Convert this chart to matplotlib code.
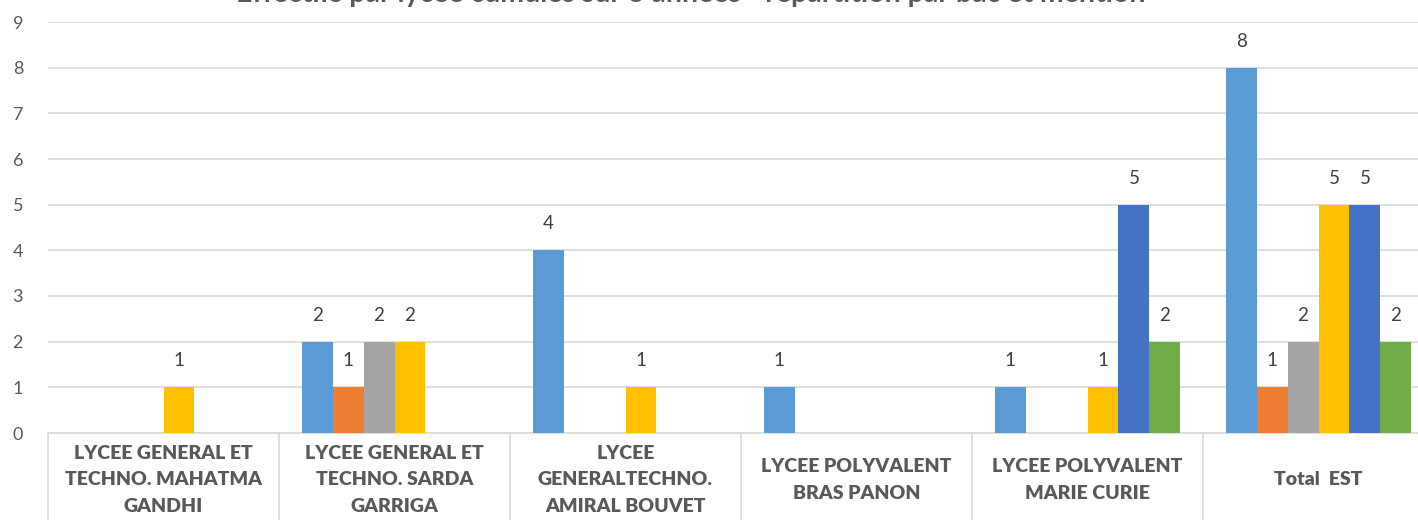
import numpy as np
import matplotlib
matplotlib.use("Agg")
import matplotlib.pyplot as plt
import matplotlib.transforms as mtransforms

plt.rcParams['font.family'] = ['Lato', 'DejaVu Sans']

categories = ["LYCEE GENERAL ET\nTECHNO. MAHATMA\nGANDHI",
              "LYCEE GENERAL ET\nTECHNO. SARDA\nGARRIGA",
              "LYCEE\nGENERALTECHNO.\nAMIRAL BOUVET",
              "LYCEE POLYVALENT\nBRAS PANON",
              "LYCEE POLYVALENT\nMARIE CURIE",
              "Total  EST"]
series_names = ["Série 1", "Série 2", "Série 3", "Série 4", "Série 5", "Série 6"]
s1 = [0, 2, 4, 1, 1, 8]
s2 = [0, 1, 0, 0, 0, 1]
s3 = [0, 2, 0, 0, 0, 2]
s4 = [1, 2, 1, 0, 1, 5]
s5 = [0, 0, 0, 0, 5, 5]
s6 = [0, 0, 0, 0, 2, 2]
colors = ["#5B9BD5", "#ED7D31", "#A5A5A5", "#FFC000", "#4472C4", "#70AD47"]
title = "Effectifs par lycée cumulés sur 3 années - répartition par bac et mention"

W, H = 1418, 520
fig = plt.figure(figsize=(W / 100, H / 100), dpi=100)
ax = fig.add_axes([48 / W, 87 / H, 6 * 231 / W, 411 / H])

x = np.arange(len(categories))
bw = 0.134
data = [s1, s2, s3, s4, s5, s6]
for i, (vals, c) in enumerate(zip(data, colors)):
    pos = x + (i - 2.5) * bw
    bars = ax.bar(pos, vals, width=bw, color=c, zorder=3, label=series_names[i])
    for b, v in zip(bars, vals):
        if v:
            ax.annotate(str(v), (b.get_x() + b.get_width() / 2, v), xytext=(0, 19),
                        textcoords='offset points', ha='center', va='center',
                        fontsize=13.5, color='#404040')

ax.set_xlim(-0.5, len(categories) - 0.5)
ax.set_ylim(0, 9)
ax.set_yticks(range(10))
ax.tick_params(axis='y', length=0, labelsize=13, labelcolor='#595959', pad=18)
ax.set_xticks([])
ax.grid(axis='y', color='#D9D9D9', linewidth=1.2, zorder=0)
for s in ['top', 'right', 'left']:
    ax.spines[s].set_visible(False)
ax.spines['bottom'].set_color('#D9D9D9')
ax.spines['bottom'].set_linewidth(1.2)

trans = mtransforms.blended_transform_factory(ax.transData, ax.transAxes)
for b in np.arange(-0.5, len(categories), 1.0):
    ax.plot([b, b], [0, -0.25], transform=trans, color='#D9D9D9', lw=1.2, clip_on=False)
for xi, lab in zip(x, categories):
    ax.text(xi, -0.114, lab, transform=trans, ha='center', va='center',
            fontsize=14, fontweight='heavy', color='#595959', linespacing=1.68)

fig.text(0.487, 1 - 2 / H, title, ha='center', va='baseline', fontsize=20.5,
         fontweight='bold', color='#595959')

fig.savefig("out.png", dpi=100)
